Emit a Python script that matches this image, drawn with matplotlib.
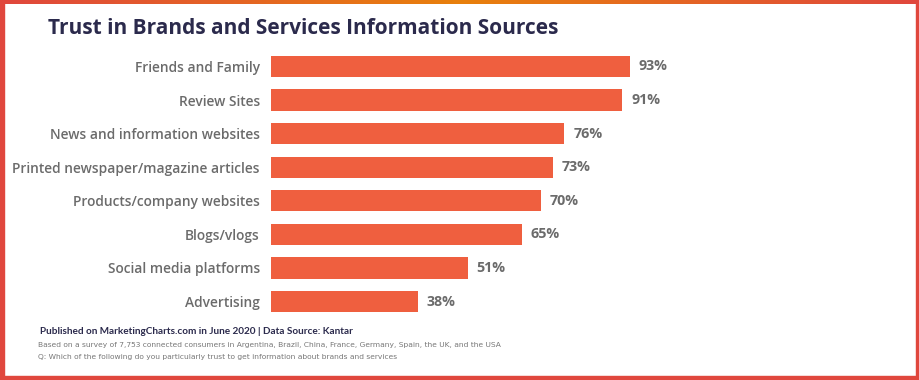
import numpy as np
import matplotlib
matplotlib.use("Agg")
import matplotlib.pyplot as plt
from matplotlib.colors import LinearSegmentedColormap
from matplotlib.patches import Rectangle

# data
sources = ["Friends and Family", "Review Sites", "News and information websites",
           "Printed newspaper/magazine articles", "Products/company websites",
           "Blogs/vlogs", "Social media platforms", "Advertising"]
trust = [93, 91, 76, 73, 70, 65, 51, 38]

title = "Trust in Brands and Services Information Sources"
source_line = "Published on MarketingCharts.com in June 2020 | Data Source: Kantar"
notes = ["Based on a survey of 7,753 connected consumers in Argentina, Brazil, China, France, Germany, Spain, the UK, and the USA",
         "Q: Which of the following do you particularly trust to get information about brands and services"]

bar_color = "#ef5f3f"
navy = "#2b2a4c"
gray = "#6b6b6b"

W, H = 920, 380
fig = plt.figure(figsize=(W / 100, H / 100), dpi=100)
fig.patch.set_facecolor("white")

# bar axes: x 0..100 mapped to 271..657 px
ax = fig.add_axes([271 / W, 1 - 318.3 / H, 386 / W, 268.6 / H])
y = np.arange(len(sources))
ax.barh(y, trust, height=0.63, color=bar_color)
ax.set_xlim(0, 100)
ax.set_ylim(len(sources) - 0.5, -0.5)
ax.set_yticks(y)
ax.set_yticklabels(sources, fontsize=9.9, color=gray, fontweight="semibold", family="Open Sans")
ax.tick_params(axis="y", length=0, pad=8)
ax.set_xticks([])
for s in ax.spines.values():
    s.set_visible(False)
ax.patch.set_alpha(0)
for yi, v in zip(y, trust):
    ax.text(v + 2.3, yi, f"{v}%", va="center", ha="left", fontsize=10.3,
            color=gray, fontweight="bold", family="Open Sans")

fig.text(48 / W, 1 - 29 / H, title, fontsize=15, fontweight="bold",
         color=navy, va="center", ha="left", family="Open Sans")
fig.text(40 / W, 1 - 331 / H, source_line, fontsize=7.2, fontweight="bold",
         color=navy, va="center", ha="left", family="Lato")
for i, line in enumerate(notes):
    fig.text(38 / W, 1 - (345 + 11.5 * i) / H, line, fontsize=5.4,
             color="#777777", va="center", ha="left", family="DejaVu Sans")

# border
red = "#e0473d"
lw = 4
fig.patches.append(Rectangle((0, 0), lw / W, 1, transform=fig.transFigure, color=red, zorder=10))
fig.patches.append(Rectangle((1 - lw / W, 0), lw / W, 1, transform=fig.transFigure, color=red, zorder=10))
fig.patches.append(Rectangle((0, 0), 1, lw / H, transform=fig.transFigure, color=red, zorder=10))
grad_ax = fig.add_axes([0, 1 - lw / H, 1, lw / H])
cmap = LinearSegmentedColormap.from_list("top", [red, "#e8800c", red])
grad_ax.imshow(np.linspace(0, 1, 256)[None, :], aspect="auto", cmap=cmap)
grad_ax.axis("off")

fig.savefig("out.png", dpi=100, facecolor="white")
